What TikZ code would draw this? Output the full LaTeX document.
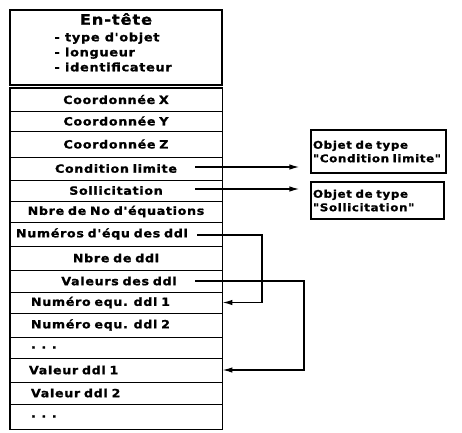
\documentclass[tikz,border=0pt]{standalone}
\usepackage{fontspec}
\newfontfamily\diagf{DejaVu Sans Bold}[FakeStretch=1.12, FakeBold=1.2, LetterSpace=6]
\usetikzlibrary{arrows.meta}
\begin{document}
\begin{tikzpicture}[x=1pt,y=-1pt,
  txt/.style={font=\diagf\fontsize{11.3}{13}\selectfont},
  cell/.style={txt, draw, line width=0.9pt, rectangle, inner sep=0pt, text width=212pt, minimum width=212pt, align=center},
  lcell/.style={cell, align=left},
  outer/.style={draw, line width=1.9pt},
  objbox/.style={draw, line width=1.3pt, rectangle, inner xsep=2pt, inner ysep=0pt, align=left,
    font=\diagf\fontsize{10.6}{13.5}\selectfont},
  arr/.style={line width=1.3pt, -{Latex[length=10pt,width=5.5pt]}},
  conn/.style={line width=1.3pt}]
\useasboundingbox (0,0) rectangle (462,432);
% header
\node[outer, rectangle, minimum width=212pt, minimum height=75pt, inner sep=0pt] (hdr) at (116,47.5) {};
\node[txt, font=\diagf\fontsize{14.5}{16}\selectfont] (title) at (116,19) {En-tête};
\node[txt, anchor=west, align=left, font=\diagf\fontsize{11.5}{15}\selectfont] (hlist) at (51,52)
  {- type d'objet\\- longueur\\- identificateur};
% rows
\node[cell, minimum height=23pt] (rX) at (116,99.5) {Coordonnée X};
\node[cell, minimum height=20pt] (rY) at (116,121) {Coordonnée Y};
\node[cell, minimum height=26pt] (rZ) at (116,144) {Coordonnée Z};
\node[cell, minimum height=23pt] (rCL) at (116,168.5) {Condition limite};
\node[cell, minimum height=21pt] (rSo) at (116,190.5) {Sollicitation};
\node[cell, minimum height=21pt] (rNbE) at (116,211.5) {Nbre de No d'équations};
\node[lcell, minimum height=24pt] (rNum) at (116,234) {\hspace*{6pt}Numéros d'équ des ddl};
\node[cell, minimum height=24pt] (rNbD) at (116,258) {Nbre de ddl};
\node[cell, minimum height=22pt] (rVal) at (116,281) {\hspace*{6pt}Valeurs des ddl};
\node[lcell, minimum height=21pt] (rN1) at (116,302.5) {\hspace*{21pt}Numéro equ. ddl 1};
\node[lcell, minimum height=24pt] (rN2) at (116,325) {\hspace*{21pt}Numéro equ. ddl 2};
\node[lcell, minimum height=21pt] (rD1) at (116,347.5) {\hspace*{21pt}. . .};
\node[lcell, minimum height=24pt] (rV1) at (116,370) {\hspace*{19pt}Valeur ddl 1};
\node[lcell, minimum height=22pt] (rV2) at (116,393) {\hspace*{21pt}Valeur ddl 2};
\node[lcell, minimum height=25pt] (rD2) at (116,416.5) {\hspace*{21pt}. . .};
\draw[outer] (rX.north west) rectangle (rD2.south east);
% object boxes
\node[objbox, minimum width=135pt, minimum height=43pt, text width=131pt] (ob1) at (378.5,151.5)
  {\mbox{Objet de type}\\\mbox{"Condition limite"}};
\node[objbox, minimum width=133pt, minimum height=37pt, text width=129pt] (ob2) at (377.5,200.5)
  {\mbox{Objet de type}\\\mbox{"Sollicitation"}};
% connectors
\coordinate (cCL) at (195,167);
\coordinate (cSo) at (195,189);
\coordinate (cNum) at (197,235);
\coordinate (cVal) at (195,281);
\draw[arr, shorten >=11pt] (cCL) -- (cCL -| ob1.west);
\draw[arr, shorten >=11pt] (cSo) -- (cSo -| ob2.west);
\draw[arr] (cNum) -- ++(65,0) |- (rN1.east);
\draw[arr] (cVal) -- ++(109,0) |- (rV1.east);
\end{tikzpicture}
\end{document}
